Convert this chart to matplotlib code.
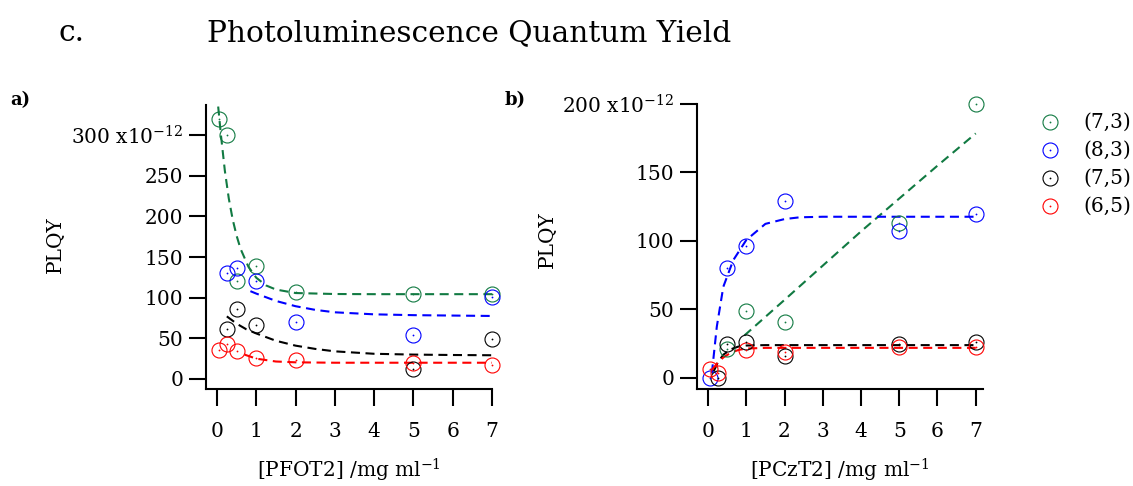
import matplotlib
matplotlib.use("Agg")
import matplotlib.pyplot as plt
from matplotlib.lines import Line2D

plt.rcParams['font.family'] = ['DejaVu Serif']
plt.rcParams['mathtext.default'] = 'regular'
plt.rcParams['mathtext.fontset'] = 'dejavuserif'
plt.rcParams['lines.scale_dashes'] = False

# ---------------- data ----------------
labels = ["(7,3)", "(8,3)", "(7,5)", "(6,5)"]
colors = ["#117a42", "#0000ff", "#000000", "#ff0000"]

# panel a) PFOT2
a_x_73 = [0.05, 0.25, 0.5, 1, 2, 5, 7]
a_y_73 = [320, 300, 120, 139, 107, 104.5, 104.5]
a_x_83 = [0.25, 0.5, 1, 2, 5, 7]
a_y_83 = [130, 136, 121, 70.5, 54, 101]
a_x_75 = [0.25, 0.5, 1, 5, 7]
a_y_75 = [62, 86, 66, 12, 49]
a_x_65 = [0.05, 0.25, 0.5, 1, 2, 5, 7]
a_y_65 = [36, 43, 34.5, 25.5, 23, 20, 17]

# fit curves panel a)
a_fx_73 = [0.03, 0.1, 0.2, 0.3, 0.4, 0.5, 0.6, 0.8, 1.0, 1.25, 1.5, 2, 3, 4, 5, 6, 7]
a_fy_73 = [335, 300, 256, 222, 196, 176, 160, 138, 124.5, 115, 110, 105.7, 104.5, 104.3, 104.3, 104.3, 104.3]
a_fx_83 = [0.85, 1.0, 1.5, 2.0, 2.5, 3.0, 4.0, 5.0, 6.0, 7.0]
a_fy_83 = [108, 105, 96, 89.5, 85, 82, 79.5, 78.5, 78, 77.5]
a_fx_75 = [0.25, 0.5, 0.75, 1.0, 1.5, 2.0, 2.5, 3.0, 4.0, 5.0, 6.0, 7.0]
a_fy_75 = [77, 68, 61, 56, 47, 41, 37, 34, 31, 30, 29.5, 29.2]
a_fx_65 = [0.7, 1.0, 1.5, 2.0, 3.0, 4.0, 5.0, 6.0, 7.0]
a_fy_65 = [30, 25, 21.5, 20.5, 20, 20, 20, 20, 20]

# panel b) PCzT2
b_x_73 = [0.5, 1, 2, 5, 7]
b_y_73 = [21, 49, 40.6, 113, 200]
b_x_83 = [0.05, 0.5, 1, 2, 5, 7]
b_y_83 = [0, 80.5, 96.6, 129, 107.3, 119.7]
b_x_75 = [0.27, 0.5, 1, 2, 5, 7]
b_y_75 = [0.3, 24.5, 26, 16, 24.8, 26.5]
b_x_65 = [0.05, 0.27, 1, 2, 5, 7]
b_y_65 = [6.8, 3.4, 20.5, 19.2, 22.4, 22.8]

# fit curves panel b)
b_fx_73 = [0.95, 2, 3, 4, 5, 6, 7]
b_fy_73 = [31, 57, 82, 107, 131, 155, 178.5]
b_fx_83 = [0.1, 0.23, 0.4, 0.66, 1.0, 1.5, 2.0, 2.4, 3, 4, 5, 6, 7]
b_fy_83 = [3.4, 37.5, 66.6, 86, 100.7, 112.5, 116, 117.3, 117.7, 117.7, 117.7, 117.7, 117.7]
b_fx_75 = [0.15, 0.25, 0.4, 0.6, 0.8, 1.0, 1.5, 3, 5, 7]
b_fy_75 = [5, 11, 17, 21, 23, 23.7, 24, 24, 24, 24]
b_fx_65 = [0.1, 0.25, 0.4, 0.6, 0.8, 1.0, 1.5, 3, 5, 7]
b_fy_65 = [6, 11, 15, 18.5, 20.5, 21.5, 22, 22, 22, 22]

a_yticks = [0, 50, 100, 150, 200, 250, 300]
a_yticklabels = ["0", "50", "100", "150", "200", "250", r"300 x10$^{-12}$"]
b_yticks = [0, 50, 100, 150, 200]
b_yticklabels = ["0", "50", "100", "150", r"200 x10$^{-12}$"]
xticks = [0, 1, 2, 3, 4, 5, 6, 7]

# ---------------- figure ----------------
W, H = 1133, 486
fig = plt.figure(figsize=(W / 100, H / 100), dpi=100)


def px_axes(left, right, top, bottom):
    return fig.add_axes([left / W, (H - bottom) / H, (right - left) / W, (bottom - top) / H])


ax1 = px_axes(206, 492, 105, 389)
ax2 = px_axes(697, 983, 104, 389)

ax1.set_xlim(-0.28, 7.0)
ax1.set_ylim(-12.3, 336.9)
ax2.set_xlim(-0.288, 7.19)
ax2.set_ylim(-8.03, 200)

ms = 10.8
mew = 0.8
lw = 1.5
dash = (6.5, 4)


def xs_ys(xs, ys):
    return list(zip(xs, ys))


def draw(ax, xs, ys, fxs, fys):
    for (fx, fy), c in zip(xs_ys(fxs, fys), colors):
        ax.plot(fx, fy, color=c, lw=lw, dashes=dash, zorder=2)
    for (x, y), c in zip(xs_ys(xs, ys), colors):
        ax.plot(x, y, ls='none', marker='o', ms=ms, mfc='none', mec=c, mew=mew,
                zorder=3, clip_on=False)
        ax.plot(x, y, ls='none', marker='o', ms=1.3, mfc=c, mec=c, mew=0,
                zorder=4, clip_on=False)


draw(ax1, [a_x_73, a_x_83, a_x_75, a_x_65], [a_y_73, a_y_83, a_y_75, a_y_65],
     [a_fx_73, a_fx_83, a_fx_75, a_fx_65], [a_fy_73, a_fy_83, a_fy_75, a_fy_65])
draw(ax2, [b_x_73, b_x_83, b_x_75, b_x_65], [b_y_73, b_y_83, b_y_75, b_y_65],
     [b_fx_73, b_fx_83, b_fx_75, b_fx_65], [b_fy_73, b_fy_83, b_fy_75, b_fy_65])

for ax, yt, ytl in [(ax1, a_yticks, a_yticklabels), (ax2, b_yticks, b_yticklabels)]:
    for s in ['top', 'right']:
        ax.spines[s].set_visible(False)
    for s in ['left', 'bottom']:
        ax.spines[s].set_linewidth(1.5)
    ax.set_xticks(xticks, labels=[str(v) for v in xticks])
    ax.set_yticks(yt, labels=ytl)
    ax.tick_params(axis='both', direction='out', length=12.5, width=1.5,
                   labelsize=14.5)
    ax.tick_params(axis='x', pad=11)
    ax.tick_params(axis='y', pad=4)
    ax.patch.set_alpha(0)

# axis labels
fig.text(55 / W, 1 - 245 / H, "PLQY", rotation=90, ha='center', va='center', fontsize=14.5)
fig.text(547 / W, 1 - 240 / H, "PLQY", rotation=90, ha='center', va='center', fontsize=14.5)
fig.text(349 / W, 1 - 477 / H, r"[PFOT2] /mg ml$^{-1}$", ha='center', va='baseline', fontsize=14.5)
fig.text(840 / W, 1 - 477 / H, r"[PCzT2] /mg ml$^{-1}$", ha='center', va='baseline', fontsize=14.5)

# panel letters and title
fig.text(10 / W, 1 - 100 / H, "a)", fontweight='bold', ha='left', va='center', fontsize=13)
fig.text(505 / W, 1 - 100 / H, "b)", fontweight='bold', ha='left', va='center', fontsize=13)
fig.text(58 / W, 1 - 41 / H, "c.", ha='left', va='baseline', fontsize=21.3)
fig.text(207 / W, 1 - 41 / H, "Photoluminescence Quantum Yield", ha='left', va='baseline', fontsize=21.3)

# legend
leg_rows = [122.5, 150, 178, 206]
for lab, c, yy in zip(labels, colors, leg_rows):
    fig.add_artist(Line2D([1050 / W], [1 - yy / H], ls='none', marker='o', ms=ms,
                          mfc='none', mec=c, mew=mew, transform=fig.transFigure))
    fig.add_artist(Line2D([1050 / W], [1 - yy / H], ls='none', marker='o', ms=1.3,
                          mfc=c, mec=c, mew=0, transform=fig.transFigure))
    fig.text(1083 / W, 1 - yy / H, lab, ha='left', va='center', fontsize=14.5)

fig.savefig("out.png", dpi=100)
